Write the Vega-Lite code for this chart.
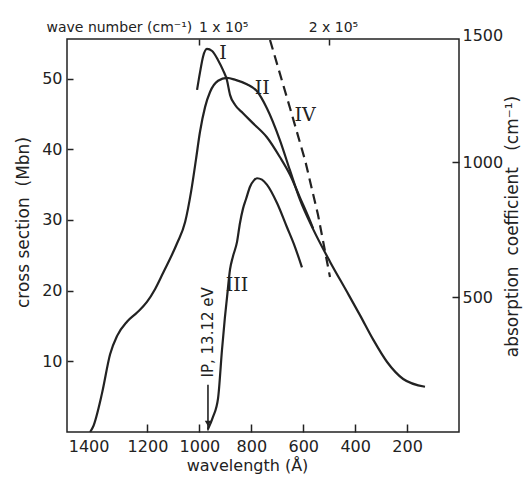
{
  "$schema": "https://vega.github.io/schema/vega-lite/v6.json",
  "width": 392,
  "height": 393,
  "autosize": {"type": "none"},
  "padding": {"left": 67, "top": 39, "right": 65, "bottom": 45},
  "background": "white",
  "config": {
    "view": {"stroke": "#222222", "strokeWidth": 1.5},
    "font": "DejaVu Sans",
    "axis": {
      "domain": false,
      "grid": false,
      "tickColor": "#222222",
      "tickWidth": 1.5,
      "labelColor": "#222222",
      "titleColor": "#222222",
      "labelFont": "DejaVu Sans",
      "titleFont": "DejaVu Sans",
      "labelFontSize": 16,
      "titleFontSize": 16,
      "titleFontWeight": "normal"
    }
  },
  "datasets": {
    "curves": [
      {"curve": "I", "wl": 1009, "mbn": 48.4},
      {"curve": "I", "wl": 998, "mbn": 50.8},
      {"curve": "I", "wl": 986, "mbn": 53.1},
      {"curve": "I", "wl": 971, "mbn": 54.2},
      {"curve": "I", "wl": 951, "mbn": 53.9},
      {"curve": "I", "wl": 928, "mbn": 52.6},
      {"curve": "I", "wl": 909, "mbn": 51.2},
      {"curve": "I", "wl": 894, "mbn": 49.8},
      {"curve": "I", "wl": 882, "mbn": 47.7},
      {"curve": "I", "wl": 863, "mbn": 46.3},
      {"curve": "I", "wl": 832, "mbn": 45.1},
      {"curve": "I", "wl": 794, "mbn": 43.7},
      {"curve": "I", "wl": 740, "mbn": 41.7},
      {"curve": "I", "wl": 690, "mbn": 38.9},
      {"curve": "I", "wl": 651, "mbn": 36.4},
      {"curve": "I", "wl": 613, "mbn": 33.2},
      {"curve": "I", "wl": 574, "mbn": 29.9},
      {"curve": "I", "wl": 562, "mbn": 28.8},
      {"curve": "II", "wl": 1421, "mbn": 0.0},
      {"curve": "II", "wl": 1410, "mbn": 0.7},
      {"curve": "II", "wl": 1375, "mbn": 5.5},
      {"curve": "II", "wl": 1344, "mbn": 11.0},
      {"curve": "II", "wl": 1317, "mbn": 13.6},
      {"curve": "II", "wl": 1279, "mbn": 15.6},
      {"curve": "II", "wl": 1240, "mbn": 16.9},
      {"curve": "II", "wl": 1202, "mbn": 18.4},
      {"curve": "II", "wl": 1171, "mbn": 20.2},
      {"curve": "II", "wl": 1140, "mbn": 22.5},
      {"curve": "II", "wl": 1086, "mbn": 26.7},
      {"curve": "II", "wl": 1055, "mbn": 29.7},
      {"curve": "II", "wl": 1032, "mbn": 34.0},
      {"curve": "II", "wl": 1013, "mbn": 38.6},
      {"curve": "II", "wl": 998, "mbn": 42.4},
      {"curve": "II", "wl": 978, "mbn": 46.0},
      {"curve": "II", "wl": 959, "mbn": 48.1},
      {"curve": "II", "wl": 928, "mbn": 49.7},
      {"curve": "II", "wl": 894, "mbn": 50.1},
      {"curve": "II", "wl": 860, "mbn": 49.8},
      {"curve": "II", "wl": 817, "mbn": 49.2},
      {"curve": "II", "wl": 778, "mbn": 48.2},
      {"curve": "II", "wl": 740, "mbn": 45.8},
      {"curve": "II", "wl": 690, "mbn": 41.3},
      {"curve": "II", "wl": 651, "mbn": 37.0},
      {"curve": "II", "wl": 613, "mbn": 32.9},
      {"curve": "II", "wl": 562, "mbn": 28.7},
      {"curve": "II", "wl": 497, "mbn": 24.1},
      {"curve": "II", "wl": 431, "mbn": 19.8},
      {"curve": "II", "wl": 381, "mbn": 16.5},
      {"curve": "II", "wl": 331, "mbn": 13.1},
      {"curve": "II", "wl": 277, "mbn": 9.9},
      {"curve": "II", "wl": 215, "mbn": 7.5},
      {"curve": "II", "wl": 131, "mbn": 6.4},
      {"curve": "III", "wl": 967, "mbn": 0.4},
      {"curve": "III", "wl": 948, "mbn": 2.1},
      {"curve": "III", "wl": 928, "mbn": 4.8},
      {"curve": "III", "wl": 913, "mbn": 11.6},
      {"curve": "III", "wl": 902, "mbn": 16.1},
      {"curve": "III", "wl": 894, "mbn": 18.9},
      {"curve": "III", "wl": 882, "mbn": 23.0},
      {"curve": "III", "wl": 871, "mbn": 24.8},
      {"curve": "III", "wl": 855, "mbn": 26.9},
      {"curve": "III", "wl": 844, "mbn": 29.5},
      {"curve": "III", "wl": 832, "mbn": 31.6},
      {"curve": "III", "wl": 820, "mbn": 33.0},
      {"curve": "III", "wl": 805, "mbn": 34.7},
      {"curve": "III", "wl": 790, "mbn": 35.6},
      {"curve": "III", "wl": 778, "mbn": 35.9},
      {"curve": "III", "wl": 759, "mbn": 35.7},
      {"curve": "III", "wl": 740, "mbn": 35.0},
      {"curve": "III", "wl": 701, "mbn": 32.4},
      {"curve": "III", "wl": 663, "mbn": 29.0},
      {"curve": "III", "wl": 632, "mbn": 26.2},
      {"curve": "III", "wl": 605, "mbn": 23.3}
    ],
    "curveIV": [
      {"wl": 728, "coef": 1452},
      {"wl": 651, "coef": 1200},
      {"wl": 593, "coef": 1007},
      {"wl": 543, "coef": 804},
      {"wl": 497, "coef": 574}
    ],
    "numerals": [
      {"label": "I", "wl": 909, "mbn": 53.6},
      {"label": "II", "wl": 758, "mbn": 48.7},
      {"label": "III", "wl": 855, "mbn": 20.8},
      {"label": "IV", "wl": 593, "mbn": 44.9}
    ],
    "ionization": [
      {"label": "IP, 13.12 eV", "wl": 967, "text_mbn": 14.1, "arrow_top": 6.7, "arrow_tip": 0.2, "head": 1.2}
    ]
  },
  "layer": [
    {
      "layer": [
        {
          "data": {"name": "curves"},
          "mark": {"type": "line", "interpolate": "monotone", "stroke": "#222222", "strokeWidth": 2.2},
          "encoding": {
            "x": {
              "field": "wl",
              "type": "quantitative",
              "scale": {"domain": [0, 1510], "reverse": true, "nice": false, "zero": false},
              "axis": {
                "orient": "bottom",
                "values": [1400, 1200, 1000, 800, 600, 400, 200],
                "format": "d",
                "tickSize": -8,
                "tickOpacity": {"condition": {"test": "datum.value == 1400", "value": 0}, "value": 1},
                "labelOffset": {"condition": {"test": "datum.value == 1400", "value": -7}, "value": 0},
                "labelPadding": 14,
                "labelFlush": false,
                "title": "wavelength (Å)",
                "titleX": 180,
                "titleY": 38,
                "titleAlign": "center",
                "titleBaseline": "alphabetic"
              }
            },
            "y": {
              "field": "mbn",
              "type": "quantitative",
              "scale": {"domain": [0, 55.6], "nice": false, "zero": false},
              "axis": {
                "orient": "left",
                "values": [10, 20, 30, 40, 50],
                "format": "d",
                "tickSize": -6,
                "labelPadding": 11,
                "title": "cross\u00a0section\u00a0\u00a0(Mbn)",
                "titleFontSize": 17,
                "titleAngle": 270,
                "titleX": -44,
                "titleY": 183,
                "titleAlign": "center",
                "titleBaseline": "middle"
              }
            },
            "detail": {"field": "curve"}
          }
        },
        {
          "data": {"name": "numerals"},
          "mark": {"type": "text", "font": "DejaVu Serif", "fontSize": 19, "color": "#222222", "align": "center", "baseline": "middle"},
          "encoding": {
            "x": {"field": "wl", "type": "quantitative"},
            "y": {"field": "mbn", "type": "quantitative"},
            "text": {"field": "label"}
          }
        },
        {
          "data": {"name": "ionization"},
          "mark": {"type": "text", "angle": 270, "font": "DejaVu Sans", "fontSize": 15, "color": "#222222", "align": "center", "baseline": "middle"},
          "encoding": {
            "x": {"field": "wl", "type": "quantitative"},
            "y": {"field": "text_mbn", "type": "quantitative"},
            "text": {"field": "label"}
          }
        },
        {
          "data": {"name": "ionization"},
          "mark": {"type": "rule", "stroke": "#222222", "strokeWidth": 1.6},
          "encoding": {
            "x": {"field": "wl", "type": "quantitative"},
            "y": {"field": "arrow_top", "type": "quantitative"},
            "y2": {"field": "arrow_tip"}
          }
        },
        {
          "data": {"name": "ionization"},
          "mark": {"type": "point", "shape": "triangle-down", "filled": true, "size": 40, "color": "#222222", "opacity": 1},
          "encoding": {
            "x": {"field": "wl", "type": "quantitative"},
            "y": {"field": "head", "type": "quantitative"}
          }
        }
      ]
    },
    {
      "data": {"name": "curveIV"},
      "mark": {"type": "line", "stroke": "#222222", "strokeWidth": 2.2, "strokeDash": [10, 6]},
      "encoding": {
        "x": {
          "field": "wl",
          "type": "quantitative",
          "scale": {"domain": [0, 1510], "reverse": true, "nice": false, "zero": false},
          "axis": {
            "orient": "top",
            "values": [1000, 500],
            "tickSize": -6,
            "labelExpr": "datum.value == 1000 ? '1 x 10⁵' : '2 x 10⁵'",
            "labelAlign": "left",
            "labelBaseline": "alphabetic",
            "labelFontSize": 14,
            "labelOffset": {"condition": {"test": "datum.value == 500", "value": -21}, "value": -1},
            "labelPadding": 14,
            "labelFlush": false,
            "title": "wave number (cm⁻¹)",
            "titleFontSize": 14,
            "titleX": -21,
            "titleY": -8,
            "titleAlign": "left",
            "titleBaseline": "alphabetic"
          }
        },
        "y": {
          "field": "coef",
          "type": "quantitative",
          "scale": {"domain": [0, 1500], "range": [393, -12], "nice": false, "zero": false},
          "axis": {
            "orient": "right",
            "values": [500, 1000, 1500],
            "format": "d",
            "tickSize": -7,
            "tickOpacity": {"condition": {"test": "datum.value == 1500", "value": 0}, "value": 1},
            "labelOffset": {"condition": {"test": "datum.value == 1500", "value": 8}, "value": 0},
            "labelPadding": 10,
            "labelFlush": false,
            "title": "absorption\u00a0\u00a0coefficient\u00a0\u00a0\u00a0(cm⁻¹)",
            "titleFontSize": 17,
            "titleAngle": 270,
            "titleX": 53,
            "titleY": 187,
            "titleAlign": "center",
            "titleBaseline": "middle"
          }
        }
      }
    }
  ],
  "resolve": {"scale": {"x": "independent", "y": "independent"}}
}
